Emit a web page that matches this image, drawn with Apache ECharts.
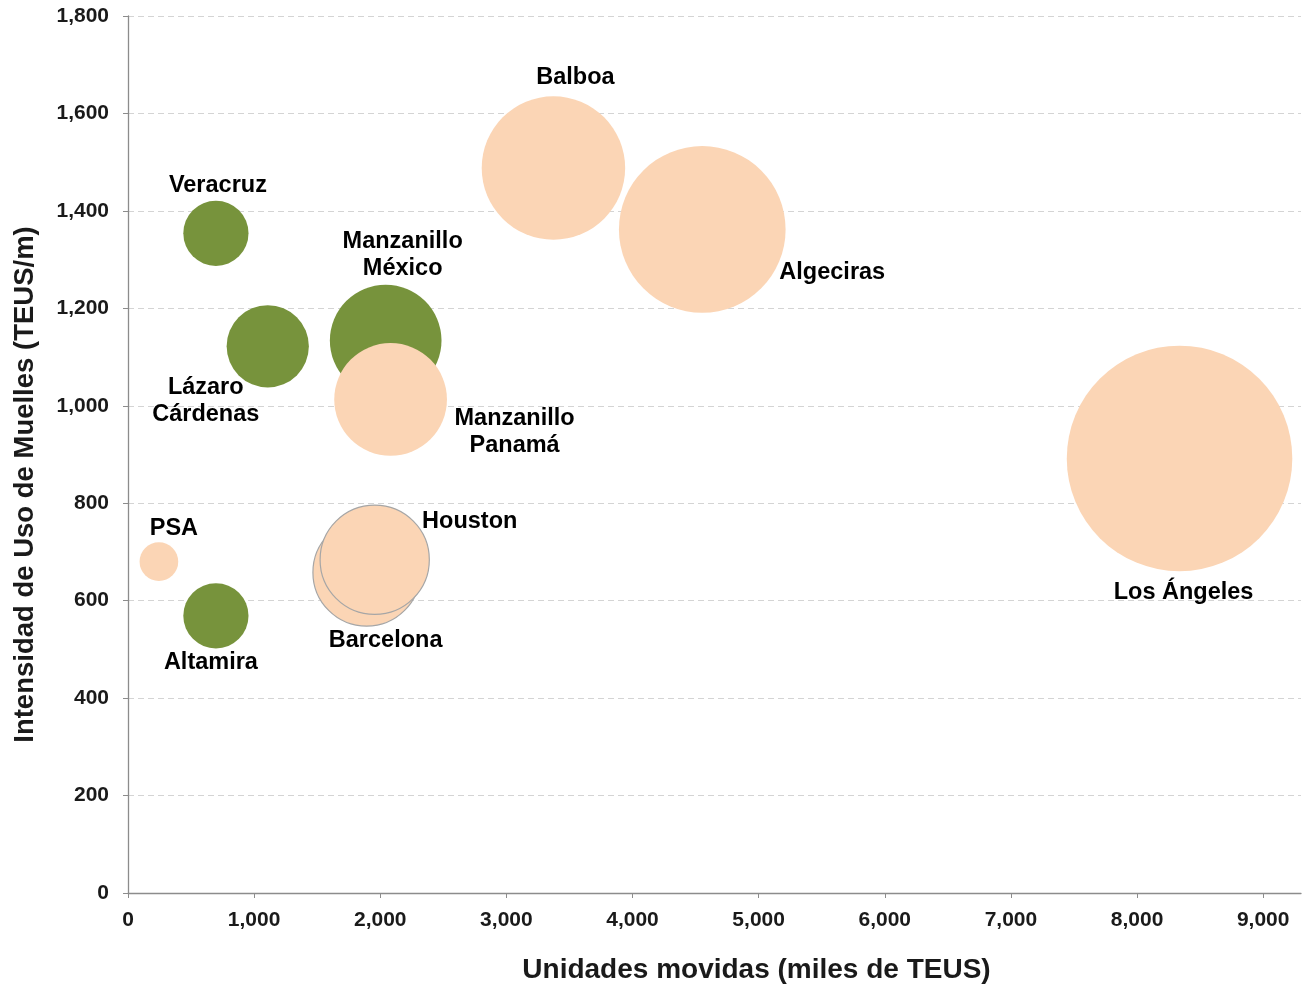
<!DOCTYPE html>
<html>
<head>
<meta charset="utf-8">
<script src="https://cdn.jsdelivr.net/npm/echarts@6/dist/echarts.min.js"></script>
<style>
  html, body { margin: 0; padding: 0; background: #fff; }
  #chart { width: 1306px; height: 987px; }
</style>
</head>
<body>
<div id="chart"></div>
<script>
// Mexican ports (green bubbles)
const mexLabels = ['Veracruz', 'Lázaro\nCárdenas', 'Manzanillo\nMéxico', 'Altamira'];
const mexTeus = [697, 1108, 2043, 697];            // miles de TEUS
const mexIntensity = [1354, 1122, 1134, 569];      // TEUS/m

// International reference ports (peach bubbles)
const intlLabels = ['PSA', 'Barcelona', 'Houston', 'Manzanillo\nPanamá', 'Balboa', 'Algeciras', 'Los Ángeles'];
const intlTeus = [245, 1892, 1956, 2082, 3373, 4553, 8337];
const intlIntensity = [680, 658, 684, 1013, 1488, 1362, 892];

// Axis ticks
const xTicks = [0, 1000, 2000, 3000, 4000, 5000, 6000, 7000, 8000, 9000];

// Label placement relative to each bubble centre (pixels)
const labelOffset = {
  'Veracruz': [2, -48],
  'Lázaro\nCárdenas': [-62, 55],
  'Manzanillo\nMéxico': [17, -85],
  'Altamira': [-5, 47],
  'PSA': [15, -33],
  'Barcelona': [19, 68],
  'Houston': [95, -38],
  'Manzanillo\nPanamá': [124, 33],
  'Balboa': [22, -90],
  'Algeciras': [130, 43],
  'Los Ángeles': [4, 134]
};
const outlined = { 'Barcelona': true, 'Houston': true };

const FONT = '"Liberation Sans", Arial, sans-serif';
const BUBBLE_SCALE = 2.47; // diameter per sqrt(miles de TEUS)

function buildPoints(labels, xs, ys) {
  return labels.map((name, i) => ({
    name: name,
    value: [xs[i], ys[i], xs[i]],
    label: { offset: labelOffset[name] },
    itemStyle: outlined[name] ? { borderColor: '#A6A6A6', borderWidth: 1.2 } : undefined
  }));
}

const labelStyle = {
  show: true,
  position: 'inside',
  formatter: p => p.name,
  color: '#000',
  fontFamily: FONT,
  fontWeight: 'bold',
  fontSize: 23.5,
  lineHeight: 27,
  align: 'center',
  verticalAlign: 'middle'
};

const chart = echarts.init(document.getElementById('chart'), null, { renderer: 'canvas' });
chart.setOption({
  backgroundColor: '#fff',
  animation: false,
  grid: { left: 128, right: 5, top: 16, bottom: 94, containLabel: false, outerBoundsMode: 'none' },
  xAxis: {
    type: 'value',
    min: 0,
    max: 9300,
    interval: 1000,
    name: 'Unidades movidas (miles de TEUS)',
    nameLocation: 'middle',
    nameGap: 63,
    nameTextStyle: { fontFamily: FONT, fontWeight: 'bold', fontSize: 28, color: '#1a1a1a', padding: [0, 0, 0, 84] },
    axisLine: { show: true, lineStyle: { color: '#8C8C8C', width: 1.3 } },
    axisTick: { show: true, length: 5, customValues: xTicks, lineStyle: { color: '#8C8C8C' } },
    axisLabel: {
      customValues: xTicks,
      margin: 17,
      fontFamily: FONT, fontWeight: 'bold', fontSize: 21, color: '#1a1a1a',
      formatter: v => v.toLocaleString('en-US')
    },
    splitLine: { show: false }
  },
  yAxis: {
    type: 'value',
    min: 0,
    max: 1800,
    interval: 200,
    name: 'Intensidad de Uso de Muelles (TEUS/m)',
    nameLocation: 'middle',
    nameGap: 89,
    nameTextStyle: { fontFamily: FONT, fontWeight: 'bold', fontSize: 27.5, color: '#1a1a1a', padding: [0, 60, 0, 0] },
    axisLine: { show: true, lineStyle: { color: '#8C8C8C', width: 1.3 } },
    axisTick: { show: true, length: 5, lineStyle: { color: '#8C8C8C' } },
    axisLabel: {
      margin: 19,
      fontFamily: FONT, fontWeight: 'bold', fontSize: 21, color: '#1a1a1a',
      formatter: v => v.toLocaleString('en-US')
    },
    splitLine: { show: true, lineStyle: { color: '#D4D4D4', type: [6, 4], width: 1 } }
  },
  series: [
    {
      name: 'México',
      type: 'scatter',
      symbol: 'circle',
      symbolSize: v => Math.sqrt(v[2]) * BUBBLE_SCALE,
      itemStyle: { color: '#77933C', opacity: 1 },
      label: labelStyle,
      data: buildPoints(mexLabels, mexTeus, mexIntensity)
    },
    {
      name: 'Internacional',
      type: 'scatter',
      symbol: 'circle',
      symbolSize: v => Math.sqrt(v[2]) * BUBBLE_SCALE,
      itemStyle: { color: '#FBD5B5', opacity: 1 },
      label: labelStyle,
      data: buildPoints(intlLabels, intlTeus, intlIntensity)
    }
  ]
});
</script>
</body>
</html>
